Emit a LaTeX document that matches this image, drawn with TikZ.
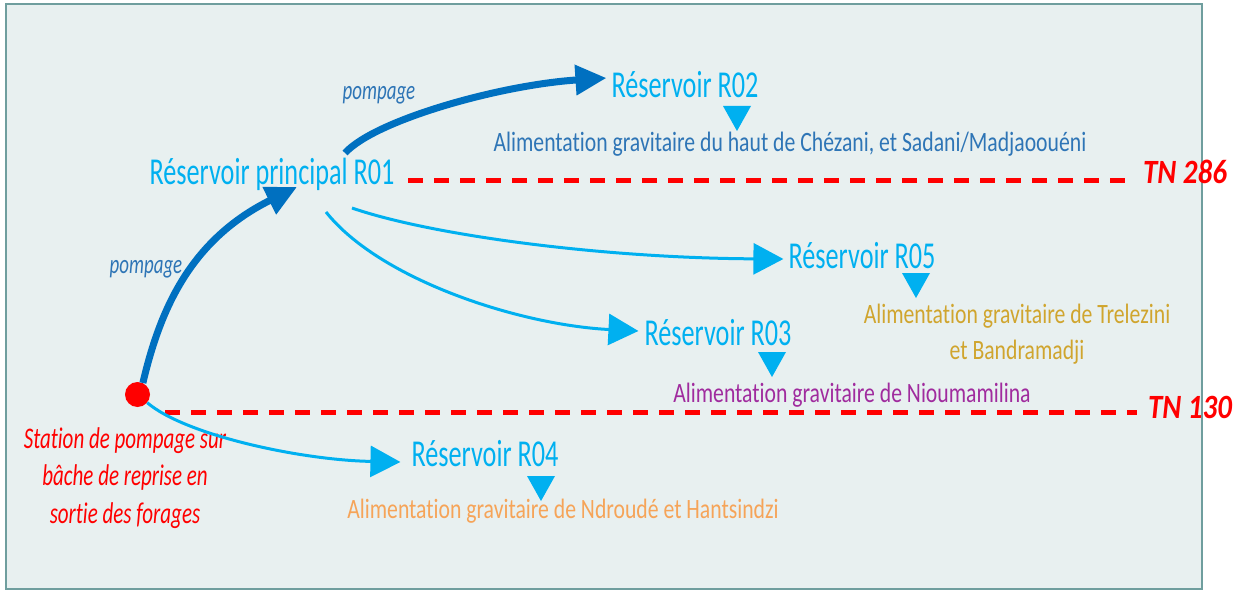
\documentclass[tikz,border=0pt]{standalone}
\usepackage{fontspec}
\setmainfont{Carlito}[Ligatures=NoCommon]
\usetikzlibrary{arrows.meta}
\definecolor{resblue}{HTML}{00B0F0}
\definecolor{pumpblue}{HTML}{0070C0}
\definecolor{labblue}{HTML}{2E75B6}
\definecolor{framec}{HTML}{6F9E9E}
\definecolor{paper}{HTML}{E8F0F0}
\definecolor{gold}{HTML}{D0A52E}
\definecolor{peach}{HTML}{F6A458}
\definecolor{plum}{HTML}{A02B9E}

\begin{document}
\begin{tikzpicture}[x=1pt,y=-1pt,
  res/.style={text=resblue,font=\fontsize{38}{44}\selectfont,xscale=0.69,inner sep=0pt,anchor=base},
  feed/.style={font=\fontsize{28}{36}\selectfont,xscale=0.775,inner sep=0pt,anchor=base},
  pump/.style={text=labblue,font=\fontsize{27}{32}\selectfont\itshape,xscale=0.7,inner sep=0pt,anchor=base},
  tn/.style={text=red,font=\fontsize{34}{40}\selectfont\bfseries\itshape,xscale=0.85,inner sep=0pt,anchor=base west},
  level/.style={red,line width=5pt,dash pattern=on 15pt off 11pt},
  thickflow/.style={pumpblue,line width=7pt,-{Triangle[length=31pt,width=29pt]}},
  thinflow/.style={resblue,line width=3pt,-{Triangle[length=30pt,width=31pt]}}]
\useasboundingbox (0,0) rectangle (1243,591);
\draw[framec,fill=paper,line width=1.5pt] (6,4) rectangle (1202,589);
% niveaux
\draw[level] (408,181) -- (1128,181);
\draw[level] (165,412) -- (1137,412);
\node[tn] (tn286) at (1143,183) {TN 286};
\node[tn] (tn130) at (1148,418) {TN 130};
% reservoirs
\node[res] (r01) at (272,185) {Réservoir principal R01};
\node[res] (r02) at (685,98) {Réservoir R02};
\node[res] (r05) at (862,268) {Réservoir R05};
\node[res] (r03) at (718,345) {Réservoir R03};
\node[res] (r04) at (485,466) {Réservoir R04};
\foreach \x/\y in {737/106,916/273,772/352,541/476} {
    \fill[resblue] (\x-14,\y) -- (\x+14,\y) -- (\x,\y+25) -- cycle;
}
\node[feed,text=labblue] (f02) at (790,152) {Alimentation gravitaire du haut de Chézani, et Sadani/Madjaoouéni};
\node[feed,text=gold,align=center] (f05) at (1017,359) {Alimentation gravitaire de Trelezini\\et Bandramadji};
\node[feed,text=plum] (f03) at (852,402) {Alimentation gravitaire de Nioumamilina};
\node[feed,text=peach] (f04) at (563,518) {Alimentation gravitaire de Ndroudé et Hantsindzi};
% station
\node[circle,fill=red,minimum size=25pt,inner sep=0pt] (st) at (137.5,394.5) {};
\node[text=red,font=\fontsize{30}{37.5}\selectfont\itshape,xscale=0.7,align=center,inner sep=0pt,anchor=north] (stxt) at (125,427) {Station de pompage sur\\bâche de reprise en\\sortie des forages};
\node[pump] (p1) at (379,100) {pompage};
\node[pump] (p2) at (146,273) {pompage};
% refoulement
\draw[thickflow] (st.65) .. controls (160,310) and (190,240) .. ([shift={(25,2)}]r01.base);
\draw[thickflow] ([shift={(73,-32)}]r01.base) .. controls (375,120) and (500,85) .. ([shift={(-5,-20)}]r02.base west);
% distribution
\draw[thinflow] ([shift={(80,23)}]r01.base) .. controls (430,235) and (600,258) .. ([shift={(-5,-9)}]r05.base west);
\draw[thinflow] ([shift={(54,27)}]r01.base) .. controls (380,280) and (520,325) .. ([shift={(-6,-14)}]r03.base west);
\draw[thinflow] (st.-40) .. controls (185,435) and (300,460) .. ([shift={(-11,-4)}]r04.base west);
\end{tikzpicture}
\end{document}
